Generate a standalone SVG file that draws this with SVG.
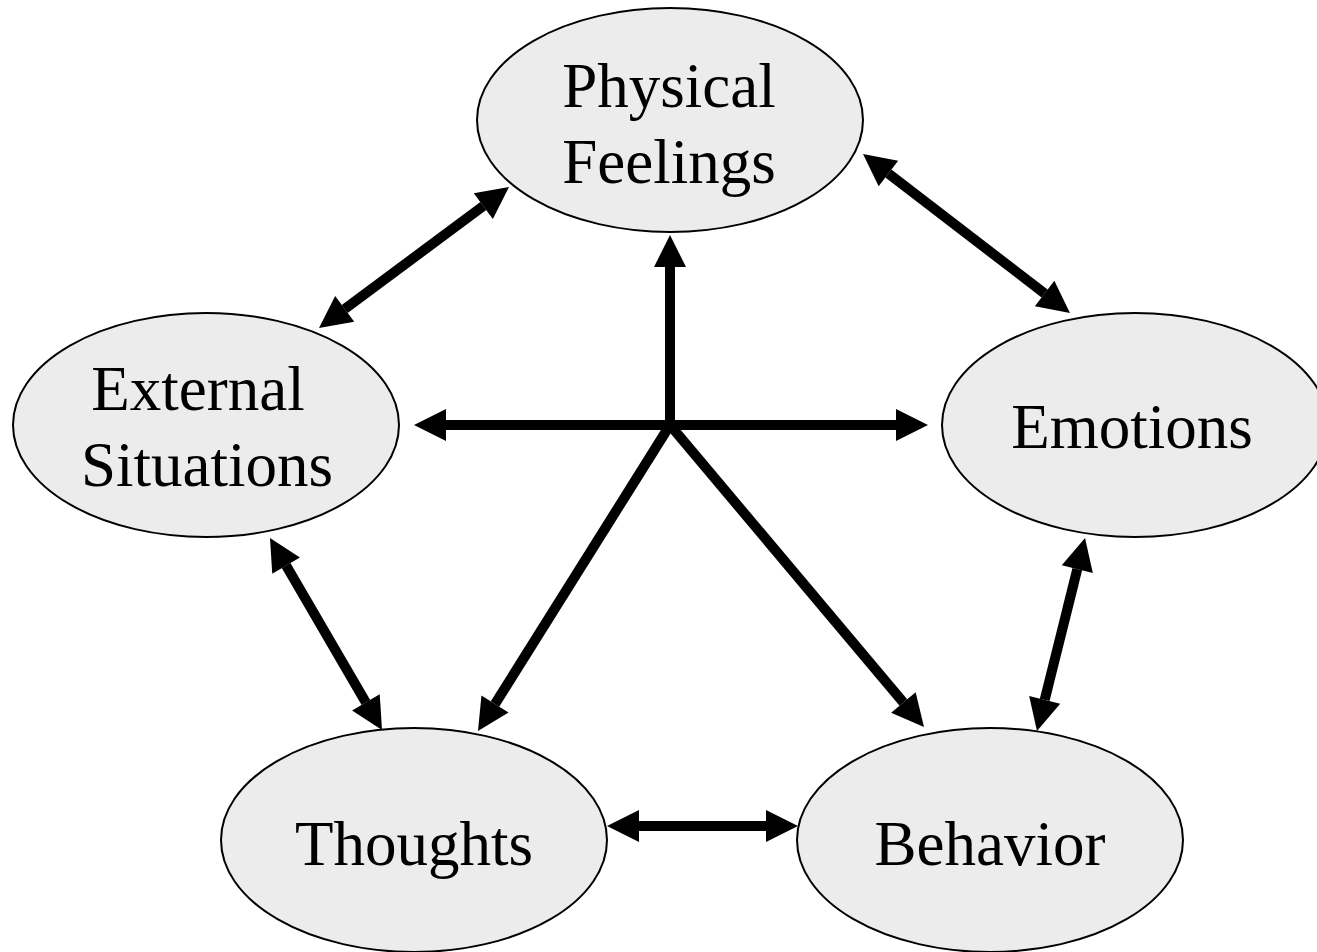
<svg xmlns="http://www.w3.org/2000/svg" width="1317" height="952" viewBox="0 0 1317 952">
<style>
.node ellipse{fill:#ececec;stroke:#000;stroke-width:2}
.node text{font-family:"Liberation Serif","Times New Roman",serif;font-size:63px;fill:#000;text-anchor:middle}
.conn line{stroke:#000;stroke-width:10;fill:none}
.one{marker-end:url(#head)}
.two{marker-start:url(#head);marker-end:url(#head)}
</style>
<defs>
<marker id="head" markerUnits="userSpaceOnUse" markerWidth="32" markerHeight="32" refX="0" refY="0" orient="auto-start-reverse" overflow="visible">
<path d="M0,-16 L32,0 L0,16 z" fill="#000"/>
</marker>
</defs>
<rect width="1317" height="952" fill="#fff"/>
<g id="physical" class="node"><ellipse cx="670" cy="120" rx="193" ry="112"/><text x="669" y="107">Physical</text><text x="669" y="183">Feelings</text></g>
<g id="external" class="node"><ellipse cx="206" cy="425" rx="193" ry="112"/><text x="198" y="410">External</text><text x="207" y="486">Situations</text></g>
<g id="emotions" class="node"><ellipse cx="1135" cy="425" rx="193" ry="112"/><text x="1132" y="448">Emotions</text></g>
<g id="thoughts" class="node"><ellipse cx="414" cy="840" rx="193" ry="112"/><text x="414" y="865">Thoughts</text></g>
<g id="behavior" class="node"><ellipse cx="990" cy="840" rx="193" ry="112"/><text x="990" y="865">Behavior</text></g>
<g id="connectors" class="conn">
<line class="one" x1="670" y1="430" x2="670" y2="267"/>
<line class="two" x1="446" y1="425" x2="896" y2="425"/>
<line class="one" x1="670" y1="425" x2="495" y2="704"/>
<line class="one" x1="670" y1="425" x2="903.4" y2="702.5"/>
<line class="two" x1="344.7" y1="308.9" x2="483.3" y2="206.1"/>
<line class="two" x1="888.4" y1="173.5" x2="1044.6" y2="293.5"/>
<line class="two" x1="286.1" y1="565.6" x2="365.9" y2="702.4"/>
<line class="two" x1="1077.3" y1="569.1" x2="1044.7" y2="699.9"/>
<line class="two" x1="639" y1="826" x2="766" y2="826"/>
</g>
</svg>
